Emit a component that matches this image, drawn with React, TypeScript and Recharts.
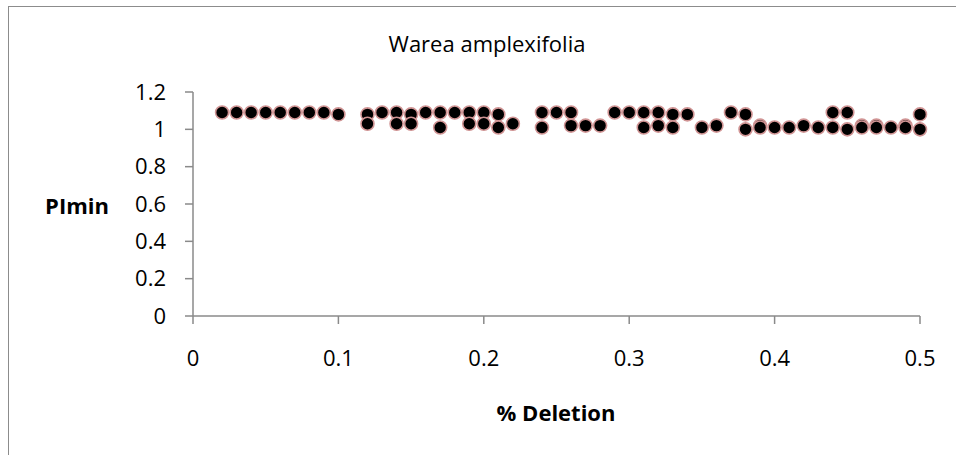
import { ScatterChart, Scatter, XAxis, YAxis } from 'recharts'

const deletion = [
  0.02, 0.03, 0.04, 0.05, 0.06, 0.07, 0.08, 0.09, 0.1,
  0.12, 0.12, 0.13, 0.14, 0.14, 0.15, 0.15, 0.16, 0.17, 0.17, 0.18,
  0.19, 0.19, 0.2, 0.2, 0.21, 0.21, 0.22,
  0.24, 0.24, 0.25, 0.26, 0.26, 0.27, 0.28, 0.29, 0.3,
  0.31, 0.31, 0.32, 0.32, 0.33, 0.33, 0.34, 0.35, 0.36, 0.37,
  0.38, 0.38, 0.39, 0.39, 0.4, 0.41, 0.42, 0.43, 0.44, 0.44,
  0.45, 0.45, 0.46, 0.46, 0.47, 0.47, 0.48, 0.49, 0.49, 0.5, 0.5,
]

const plmin = [
  1.09, 1.09, 1.09, 1.09, 1.09, 1.09, 1.09, 1.09, 1.08,
  1.08, 1.03, 1.09, 1.09, 1.03, 1.08, 1.03, 1.09, 1.09, 1.01, 1.09,
  1.09, 1.03, 1.09, 1.03, 1.08, 1.01, 1.03,
  1.09, 1.01, 1.09, 1.09, 1.02, 1.02, 1.02, 1.09, 1.09,
  1.09, 1.01, 1.09, 1.02, 1.08, 1.01, 1.08, 1.01, 1.02, 1.09,
  1.08, 1.0, 1.02, 1.01, 1.01, 1.01, 1.02, 1.01, 1.09, 1.01,
  1.09, 1.0, 1.02, 1.01, 1.02, 1.01, 1.01, 1.02, 1.01, 1.08, 1.0,
]

const xTicks = [0, 0.1, 0.2, 0.3, 0.4, 0.5]
const yTicks = [0, 0.2, 0.4, 0.6, 0.8, 1, 1.2]

const points = deletion.map((x, i) => ({ x, y: plmin[i] }))

const FONT = '"Open Sans", sans-serif'
const AXIS = '#8a8a8a'

function Dot(props: any) {
  const { cx, cy } = props
  return <circle cx={cx} cy={cy} r={6.5} fill="#000" stroke="#d09494" strokeWidth={1.6} />
}

export default function App() {
  return (
    <div style={{ position: 'absolute', left: 0, top: 0, width: 956, height: 455, background: '#fff', fontFamily: FONT }}>
      {/* chart frame (right/bottom edges fall outside the picture) */}
      <div style={{ position: 'absolute', left: 8, top: 6, right: 0, bottom: 0, borderLeft: '1.5px solid #8c8c8c', borderTop: '1.5px solid #8c8c8c' }} />
      <ScatterChart width={956} height={455} margin={{ top: 92, right: 36, bottom: 79, left: 93 }}>
        <XAxis
          type="number"
          dataKey="x"
          domain={[0, 0.5]}
          ticks={xTicks}
          height={60}
          stroke={AXIS}
          strokeWidth={1.5}
          tickSize={8}
          tickMargin={26}
          tick={{ fill: '#000', fontSize: 22, fontFamily: FONT }}
        />
        <YAxis
          type="number"
          dataKey="y"
          domain={[0, 1.2]}
          ticks={yTicks}
          width={100}
          stroke={AXIS}
          strokeWidth={1.5}
          tickSize={8}
          tickMargin={19}
          tick={{ fill: '#000', fontSize: 22, fontFamily: FONT }}
        />
        <Scatter data={points} fill="#000" shape={Dot} isAnimationActive={false} />
      </ScatterChart>
      <div style={{ position: 'absolute', left: 487, top: 43, transform: 'translate(-50%, -50%)', fontSize: 22, whiteSpace: 'nowrap' }}>
        Warea amplexifolia
      </div>
      <div style={{ position: 'absolute', left: 77, top: 205, transform: 'translate(-50%, -50%)', fontSize: 22, fontWeight: 700, whiteSpace: 'nowrap' }}>
        PImin
      </div>
      <div style={{ position: 'absolute', left: 556, top: 412, transform: 'translate(-50%, -50%)', fontSize: 22, fontWeight: 700, whiteSpace: 'nowrap' }}>
        % Deletion
      </div>
    </div>
  )
}
